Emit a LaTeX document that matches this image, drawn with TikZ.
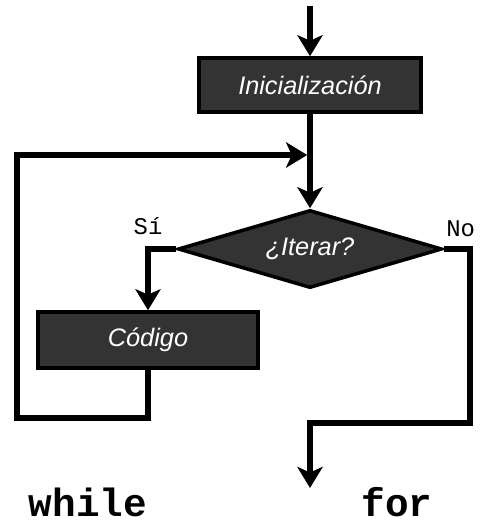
\documentclass[tikz,border=0pt]{standalone}
\usepackage{fontspec}
\setmainfont{Liberation Sans}
\setmonofont{Liberation Mono}
\usetikzlibrary{positioning, arrows.meta, shapes.geometric}
\definecolor{BoxGray}{HTML}{333333}

\begin{document}
\begin{tikzpicture}[
      x=0.025cm, y=-0.025cm,
      stepbox/.style={rectangle, draw=black, fill=BoxGray, line width=2.5pt, text=white, font=\fontsize{18}{20}\selectfont\itshape, inner sep=0pt},
      test/.style={diamond, aspect=3.4, draw=black, fill=BoxGray, line width=2.5pt, text=white, font=\fontsize{18}{20}\selectfont\itshape, inner sep=0pt, minimum width=6.6cm, minimum height=1.95cm},
      flow/.style={line width=4pt},
      arrow/.style={flow, -{Stealth[length=15pt, width=18pt, inset=4pt]}},
      branch/.style={font=\ttfamily\fontsize{17}{19}\selectfont},
      kind/.style={font=\ttfamily\bfseries\fontsize{28}{30}\selectfont}
  ]
    \useasboundingbox (0,0) rectangle (480,524);
    \coordinate (start) at (310,6);
    \node[stepbox, minimum width=5.55cm, minimum height=1.35cm](init) at (310,85){Inicialización};
    \coordinate (merge) at (310,155);
    \node[test](iter) at (310,249){¿Iterar?};
    \node[stepbox, minimum width=5.5cm, minimum height=1.4cm](code) at (148,340){Código};
    \coordinate (loopLow) at (17,418);
    \coordinate (loopHigh) at (17,155);
    \coordinate (noLow) at (470,423);
    \coordinate (exit) at (310,488);
    \draw[arrow](start)--(init);
    \draw[flow](init)--(merge);
    \draw[arrow](merge)--(iter);
    \draw[arrow](iter.west) -| (code);
    \draw[arrow](code.south) |- (loopLow) -- (loopHigh) -- ([xshift=-2pt]merge);
    \draw[arrow](iter.east) -| (noLow) -| (exit);
    \node[branch](si) at (148,226){Sí};
    \node[branch, anchor=east](no) at (480,229){No};
    \node[kind](whileLbl) at (88,502){while};
    \node[kind](forLbl) at (397,502){for};
  \end{tikzpicture}
\end{document}
